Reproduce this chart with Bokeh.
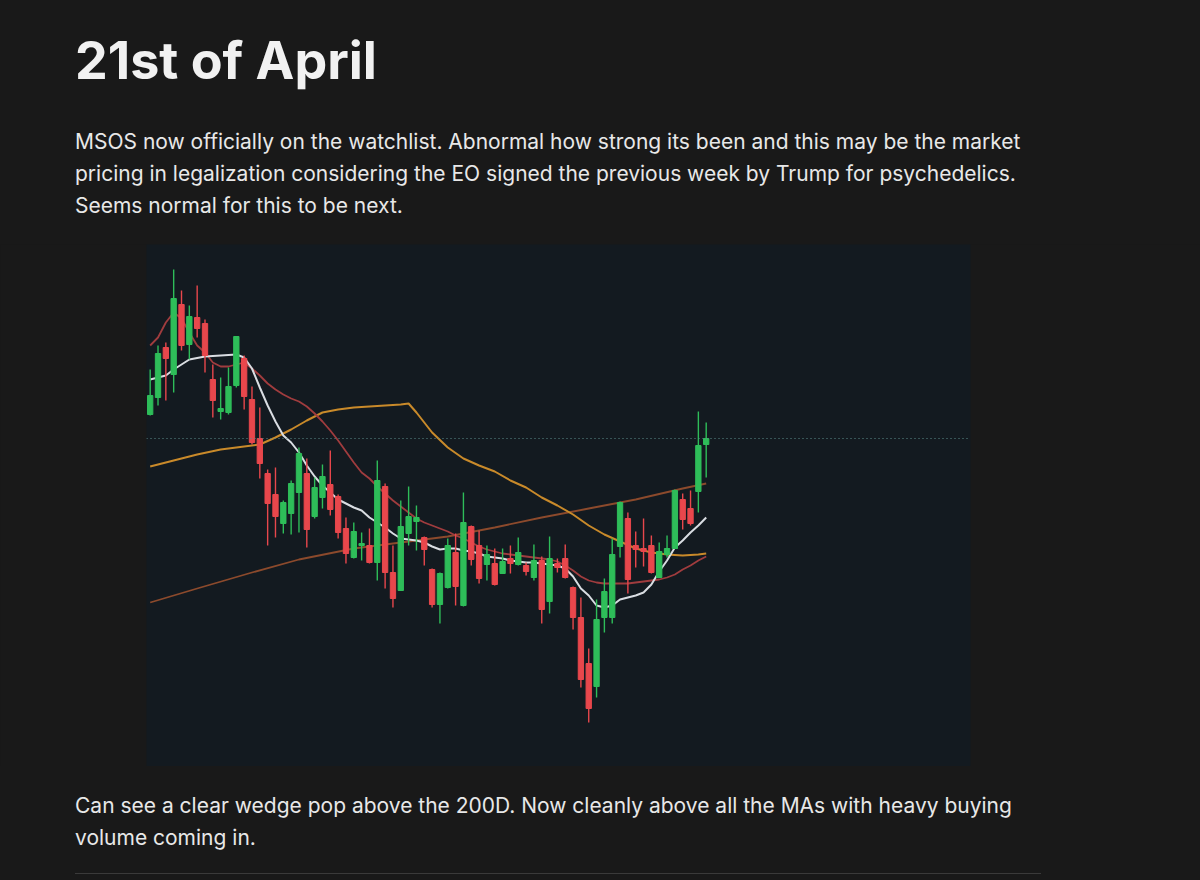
from bokeh.plotting import figure
from bokeh.models import Range1d, Span, Div, ColumnDataSource
from bokeh.layouts import column
from bokeh.embed import file_html
from bokeh.resources import INLINE

# ---------------- data ----------------
TITLE = "21st of April"
INTRO = [
    "MSOS now officially on the watchlist. Abnormal how strong its been and this may be the market",
    "pricing in legalization considering the EO signed the previous week by Trump for psychedelics.",
    "Seems normal for this to be next.",
]
OUTRO = [
    "Can see a clear wedge pop above the 200D. Now cleanly above all the MAs with heavy buying",
    "volume coming in.",
]

opens = [6.46, 6.63, 7.13, 6.86, 7.56, 7.16, 7.43, 7.37, 6.81, 6.49,
         6.48, 6.75, 7.02, 6.61, 6.22, 5.87, 5.66, 5.37, 5.47, 5.68,
         5.87, 5.44, 5.63, 5.76, 5.64, 5.32, 5.03, 5.15, 5.15, 4.98,
         5.74, 4.88, 4.70, 5.27, 5.39, 5.23, 4.91, 4.56, 4.73, 5.08,
         4.55, 5.34, 5.15, 4.96, 4.97, 4.87, 5.02, 4.96, 4.95, 4.83,
         5.00, 4.59, 4.97, 5.02, 4.73, 4.43, 3.97, 3.74, 4.43, 4.43,
         5.14, 5.42, 5.15, 5.12, 5.15, 4.83, 5.06, 5.12, 5.61, 5.52,
         5.69, 6.16]
highs = [6.91, 7.15, 7.18, 7.91, 7.70, 7.55, 7.75, 7.41, 6.96, 6.83,
         6.93, 7.24, 7.05, 6.74, 6.53, 5.91, 5.93, 5.60, 5.80, 6.13,
         6.02, 5.83, 5.96, 6.10, 5.66, 5.43, 5.38, 5.28, 5.32, 6.00,
         5.77, 5.15, 5.60, 5.74, 5.55, 5.24, 4.92, 4.88, 5.22, 5.27,
         5.68, 5.35, 5.30, 5.15, 5.12, 5.12, 5.15, 5.23, 4.98, 5.16,
         5.04, 5.24, 5.02, 5.16, 4.74, 4.63, 4.12, 4.61, 4.82, 5.22,
         5.59, 5.48, 5.29, 5.42, 5.25, 5.18, 5.25, 5.71, 5.67, 5.70,
         6.49, 6.38]
lows = [6.45, 6.55, 6.60, 6.68, 7.10, 7.01, 7.23, 6.88, 6.43, 6.41,
        6.46, 6.73, 6.51, 6.16, 5.82, 5.15, 5.23, 5.27, 5.26, 5.28,
        5.13, 5.42, 5.52, 5.45, 5.22, 4.97, 5.02, 5.00, 4.97, 4.80,
        4.72, 4.53, 4.70, 5.15, 5.10, 4.95, 4.53, 4.37, 4.72, 4.55,
        4.54, 4.95, 4.77, 4.80, 4.75, 4.87, 4.87, 4.95, 4.85, 4.80,
        4.37, 4.47, 4.88, 4.82, 4.31, 3.73, 3.38, 3.63, 4.28, 4.37,
        5.03, 4.67, 4.93, 4.94, 4.87, 4.83, 5.03, 5.12, 5.31, 5.35,
        5.48, 5.83]
closes = [6.65, 7.07, 7.02, 7.62, 7.15, 7.44, 7.32, 7.05, 6.60, 6.52,
          6.74, 7.24, 6.64, 6.18, 5.97, 5.57, 5.44, 5.58, 5.77, 6.07,
          5.31, 5.73, 5.84, 5.51, 5.28, 5.07, 5.29, 5.17, 4.98, 5.80,
          4.88, 4.62, 5.34, 5.44, 5.43, 5.11, 4.56, 4.87, 5.15, 4.74,
          5.38, 5.01, 4.82, 5.06, 4.76, 4.99, 4.97, 5.08, 4.89, 5.00,
          4.51, 5.02, 4.93, 4.83, 4.43, 3.81, 3.52, 4.41, 4.69, 5.06,
          5.58, 4.81, 5.11, 5.09, 4.88, 5.09, 5.12, 5.70, 5.41, 5.37,
          6.15, 6.22]
days = list(range(len(closes)))

# moving averages at a subset of sessions
ma_fast_x = [0, 2, 3, 5, 7, 9, 11] + list(range(12, 72))
ma_fast_y = [6.81, 6.85, 6.91, 7.01, 7.04, 7.05, 7.06,
             7.03, 6.92, 6.73, 6.55, 6.39, 6.25, 6.18, 6.08, 5.95, 5.84,
             5.75, 5.68, 5.61, 5.57, 5.53, 5.50, 5.43, 5.38, 5.33, 5.27,
             5.22, 5.21, 5.20, 5.18, 5.14, 5.11, 5.12, 5.12, 5.10, 5.09,
             5.07, 5.04, 5.03, 5.02, 5.00, 4.99, 4.98, 4.98, 4.97, 4.96,
             4.95, 4.92, 4.84, 4.72, 4.65, 4.55, 4.53, 4.55, 4.61, 4.63,
             4.65, 4.68, 4.76, 4.89, 5.00, 5.13, 5.20, 5.28, 5.35, 5.43]
ma_mid_x = list(range(72))
ma_mid_y = [7.15, 7.23, 7.38, 7.48, 7.42, 7.28, 7.15, 7.08, 6.98, 6.94,
            6.94, 6.96, 6.98, 6.92, 6.85, 6.77, 6.71, 6.66, 6.62, 6.59,
            6.54, 6.47, 6.39, 6.30, 6.20, 6.09, 5.98, 5.88, 5.82, 5.74,
            5.67, 5.60, 5.54, 5.48, 5.42, 5.38, 5.35, 5.32, 5.29, 5.25,
            5.22, 5.18, 5.14, 5.11, 5.09, 5.07, 5.06, 5.05, 5.04, 5.03,
            5.02, 5.01, 4.99, 4.95, 4.90, 4.84, 4.80, 4.78, 4.77, 4.77,
            4.77, 4.77, 4.78, 4.79, 4.80, 4.81, 4.83, 4.86, 4.91, 4.95,
            5.00, 5.04]
ma_50_x = [0, 3, 6, 9, 12, 14, 16, 18, 20, 22, 24, 26, 28, 30, 32, 33, 34,
           36, 38, 40, 42, 44, 46, 48, 50, 52, 54, 56, 58, 60, 62, 64, 66,
           68, 70, 71]
ma_50_y = [5.94, 6.00, 6.06, 6.11, 6.14, 6.16, 6.23, 6.31, 6.40, 6.48, 6.51,
           6.53, 6.54, 6.55, 6.56, 6.57, 6.48, 6.28, 6.13, 6.02, 5.95, 5.89,
           5.80, 5.73, 5.63, 5.55, 5.46, 5.35, 5.26, 5.19, 5.12, 5.08, 5.06,
           5.05, 5.06, 5.07]
ma_200_x = [0, 6, 13, 19, 26, 32, 38, 44, 50, 56, 62, 68, 71]
ma_200_y = [4.58, 4.72, 4.88, 5.01, 5.12, 5.18, 5.24, 5.33, 5.43, 5.52,
            5.61, 5.72, 5.77]

# ---------------- styling ----------------
PAGE_BG = "#191919"
PANEL_BG = "#131a20"
UP = "#2ebd59"
DOWN = "#e8474c"
W = 1200

src = ColumnDataSource(dict(
    x=days, o=opens, h=highs, l=lows, c=closes,
    top=[max(a, b) for a, b in zip(opens, closes)],
    bot=[min(a, b) for a, b in zip(opens, closes)],
    col=[UP if c >= o else DOWN for o, c in zip(opens, closes)],
))

p = figure(width=W, height=522,
           x_range=Range1d(-0.47, 104.75), y_range=Range1d(2.94, 8.16),
           x_axis_location=None, y_axis_location=None,
           toolbar_location=None, output_backend="svg",
           min_border_left=146, min_border_right=230,
           min_border_top=0, min_border_bottom=0,
           background_fill_color=PANEL_BG, border_fill_color=PAGE_BG,
           outline_line_color=None)
p.xgrid.visible = False
p.ygrid.visible = False

p.line(ma_200_x, ma_200_y, line_color="#8c4a2c", line_width=1.8)
p.line(ma_50_x, ma_50_y, line_color="#c98a2a", line_width=2)
p.line(ma_mid_x, ma_mid_y, line_color="#a03c3e", line_width=1.8)
p.line(ma_fast_x, ma_fast_y, line_color="#d9dde2", line_width=2)

p.segment(x0="x", y0="h", x1="x", y1="l", line_color="col", line_width=1.4, source=src)
p.vbar(x="x", width=0.68, top="top", bottom="bot", fill_color="col",
       line_color="col", line_width=1, source=src)

p.add_layout(Span(location=closes[-1], dimension="width", line_color="#5f8e8c",
                  line_dash="1 3", line_width=1.2))

FONT = "Inter, 'Noto Sans', sans-serif"
top_html = (
    f'<div style="position:relative;width:{W}px;height:244px;font-family:{FONT};">'
    f'<div style="position:absolute;left:75px;top:30.5px;font-size:52px;line-height:60px;'
    f'font-weight:700;color:#f1f1f1;letter-spacing:0px;white-space:nowrap;">{TITLE}</div>'
    f'<div style="position:absolute;left:75px;top:125.5px;font-size:21px;line-height:32px;'
    f'color:#e8e8e8;white-space:nowrap;">' + "<br>".join(INTRO) + '</div></div>'
)
bottom_html = (
    f'<div style="position:relative;width:{W}px;height:114px;font-family:{FONT};">'
    f'<div style="position:absolute;left:75px;top:23.5px;font-size:21px;line-height:32px;'
    f'color:#e8e8e8;white-space:nowrap;">' + "<br>".join(OUTRO) + '</div>'
    '<div style="position:absolute;left:75px;top:106.5px;width:966px;height:0;'
    'border-top:1.5px solid #3a3a3a;"></div></div>'
)
top_div = Div(text=top_html, width=W, height=244, margin=0,
              styles={"background-color": PAGE_BG})
bottom_div = Div(text=bottom_html, width=W, height=114, margin=0,
                 styles={"background-color": PAGE_BG})

layout = column(top_div, p, bottom_div, spacing=0,
                styles={"background-color": PAGE_BG})

html = None
try:
    from bokeh.core.templates import get_env
    tmpl = get_env().from_string(
        '{% extends "file.html" %}{% block postamble %}'
        '<style>html, body { background: #191919; overflow: hidden; }</style>{% endblock %}'
    )
    html = file_html(layout, INLINE, title="21st of April", template=tmpl)
except Exception:
    html = file_html(layout, INLINE, title="21st of April")

open("out.html", "w").write(html)
